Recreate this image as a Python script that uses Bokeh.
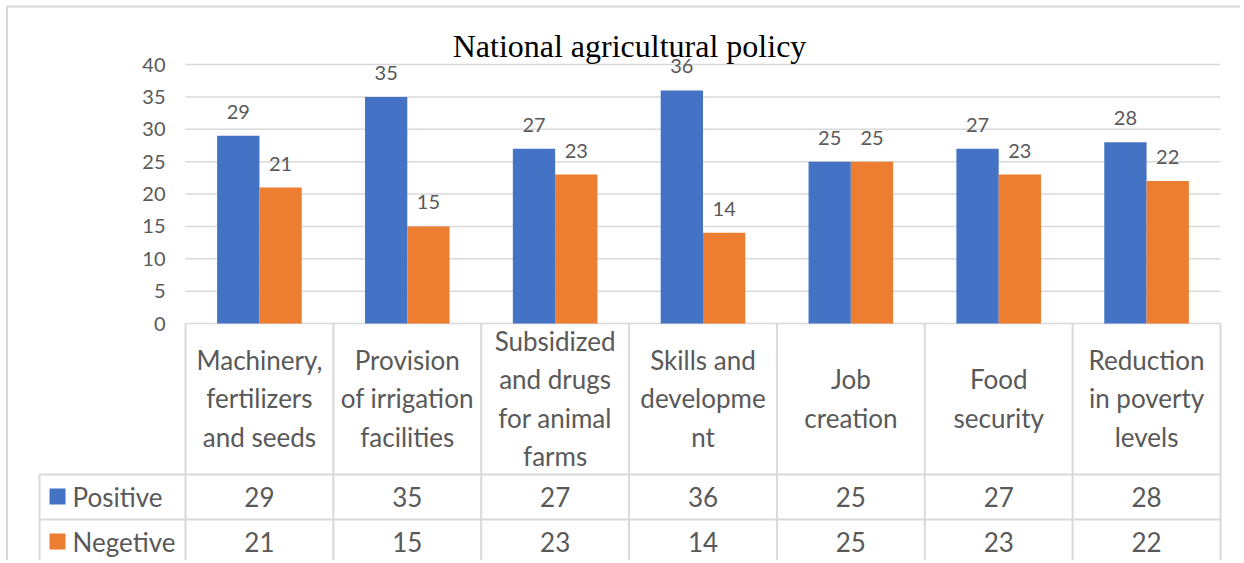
import numpy as np
from bokeh.plotting import figure
from bokeh.models import Range1d
from bokeh.core.properties import value
from bokeh.embed import file_html
from bokeh.resources import INLINE

# ---------------- data ----------------
title = "National agricultural policy"
categories = [
    "Machinery,\nfertilizers\nand seeds",
    "Provision\nof irrigation\nfacilities",
    "Subsidized\nand drugs\nfor animal\nfarms",
    "Skills and\ndevelopme\nnt",
    "Job\ncreation",
    "Food\nsecurity",
    "Reduction\nin poverty\nlevels",
]
series_names = ["Positive", "Negetive"]
positive = [29, 35, 27, 36, 25, 27, 28]
negative = [21, 15, 23, 14, 25, 23, 22]
y_ticks = [0, 5, 10, 15, 20, 25, 30, 35, 40]

# ---------------- layout ----------------
W, H = 1240, 560
OX, OY = 0, 0               # observed canvas origin in screenshot
PLOT_L, PLOT_R = 185, 1220  # image px of plot area
Y0_PX, Y40_PX = 323, 64
CAT_W = (PLOT_R - PLOT_L) / len(categories)
PX_PER_UNIT = (Y0_PX - Y40_PX) / 40.0


def X(px):
    return (px - PLOT_L) / CAT_W


def Y(py):
    return (Y0_PX - py) / PX_PER_UNIT


BLUE = "#4472C4"
ORANGE = "#ED7D31"
GRID = "#D9D9D9"
TXT = "#595959"
FONT = value("Lato")

p = figure(width=W, height=H, output_backend="svg", toolbar_location=None,
           x_range=Range1d(X(OX), X(OX + W)), y_range=Range1d(Y(OY + H), Y(OY)),
           min_border=0, outline_line_color=None)
p.xaxis.visible = False
p.yaxis.visible = False
p.grid.visible = False

n = len(categories)
centers = np.arange(n) + 0.5
bw = 42.3 / CAT_W

# outer border (left + top)
p.line([X(6.5), X(6.5), X(1250)], [Y(570), Y(6), Y(6)], line_color=GRID, line_width=2)

# horizontal gridlines
p.segment(x0=[0] * len(y_ticks), x1=[n] * len(y_ticks), y0=y_ticks, y1=y_ticks,
          line_color=GRID, line_width=1.5)

# y tick labels
p.text(x=[X(165)] * len(y_ticks), y=y_ticks, text=[str(t) for t in y_ticks],
       text_align="right", text_baseline="middle", text_font=FONT,
       text_font_size="20px", text_color=TXT)

# bars
p.vbar(x=centers - bw / 2, top=positive, width=bw, bottom=0, fill_color=BLUE, line_color=None)
p.vbar(x=centers + bw / 2, top=negative, width=bw, bottom=0, fill_color=ORANGE, line_color=None)

# data labels
p.text(x=centers - bw / 2, y=positive, text=[str(v) for v in positive], y_offset=-24,
       text_align="center", text_baseline="middle", text_font=FONT,
       text_font_size="20px", text_color=TXT)
p.text(x=centers + bw / 2, y=negative, text=[str(v) for v in negative], y_offset=-24,
       text_align="center", text_baseline="middle", text_font=FONT,
       text_font_size="20px", text_color=TXT)

# title
p.text(x=[X(629)], y=[Y(45)], text=[title], text_align="center", text_baseline="alphabetic",
       text_font=value("Liberation Serif"), text_font_size="32px", text_color="black")

# data table lines
row_tops = [Y(474), Y(519)]
p.segment(x0=[X(39)] * 2, x1=[n] * 2, y0=row_tops, y1=row_tops, line_color=GRID, line_width=2)
p.segment(x0=list(range(n + 1)), x1=list(range(n + 1)), y0=[0] * (n + 1), y1=[Y(570)] * (n + 1),
          line_color=GRID, line_width=2)
p.segment(x0=[X(39)], x1=[X(39)], y0=[Y(474)], y1=[Y(570)], line_color=GRID, line_width=2)

# category labels
p.text(x=centers, y=[Y(398)] * n, text=categories, text_align="center", text_baseline="middle",
       text_line_height=1.2, text_font=FONT, text_font_size="26px", text_color=TXT)

# table values
row_y = [Y(496), Y(541)]
p.text(x=centers, y=[row_y[0]] * n, text=[str(v) for v in positive], text_align="center",
       text_baseline="middle", text_font=FONT, text_font_size="26px", text_color=TXT)
p.text(x=centers, y=[row_y[1]] * n, text=[str(v) for v in negative], text_align="center",
       text_baseline="middle", text_font=FONT, text_font_size="26px", text_color=TXT)

# legend keys in table
p.scatter(x=[X(57)] * 2, y=row_y, marker="square", size=16, fill_color=[BLUE, ORANGE], line_color=None)
p.text(x=[X(72)] * 2, y=row_y, text=series_names, text_align="left", text_baseline="middle",
       text_font=FONT, text_font_size="26px", text_color=TXT)

open("out.html", "w").write(file_html(p, INLINE))
